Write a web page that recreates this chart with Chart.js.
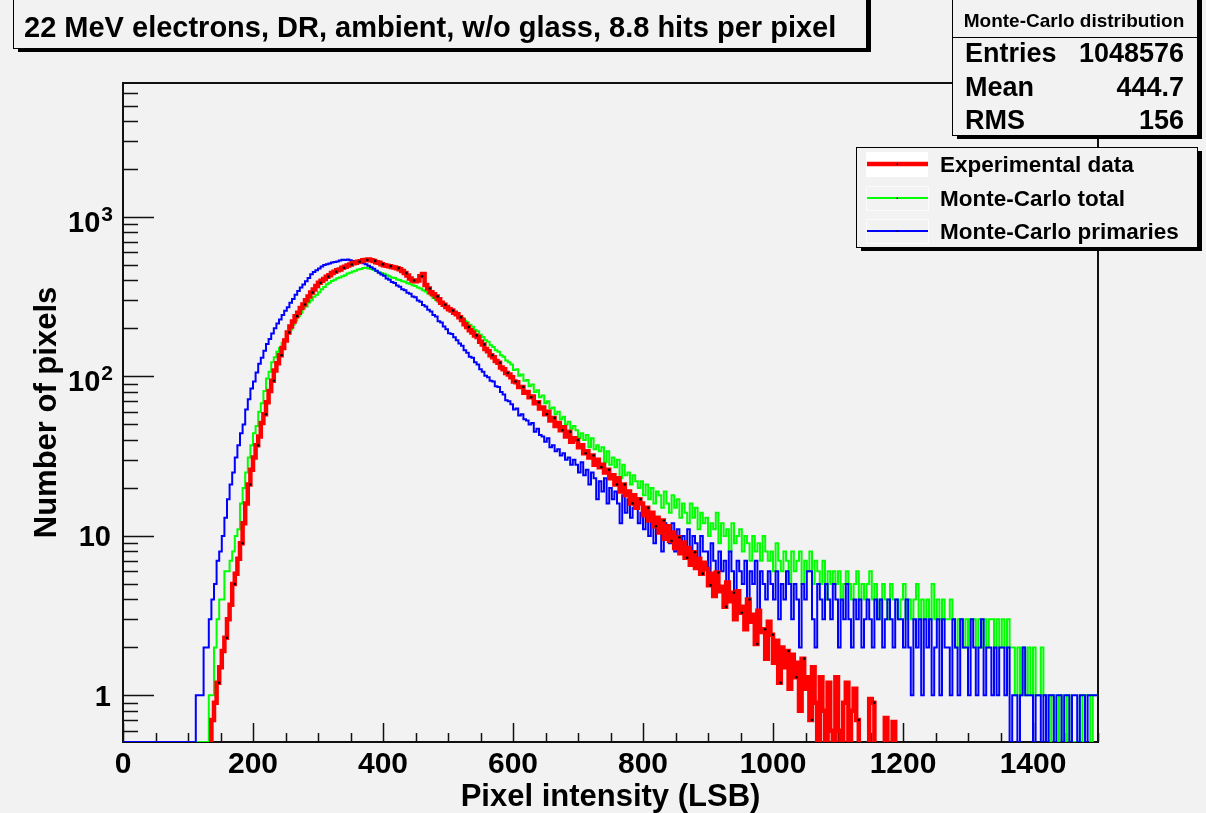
<!DOCTYPE html>
<html>
<head>
<meta charset="utf-8">
<title>22 MeV electrons, DR, ambient, w/o glass</title>
<script src="https://cdn.jsdelivr.net/npm/chart.js@4.4.1/dist/chart.umd.min.js"></script>
<style>
  html, body { margin: 0; padding: 0; background: #f2f2f2; }
  #wrap { width: 1206px; height: 813px; }
</style>
</head>
<body>
<div id="wrap"><canvas id="pixelChart" width="1206" height="813"></canvas></div>
<script>
// Histogram contents, 4 LSB per bin starting at 0 (one line = 100 LSB)
const binWidth = 4;

const experimental = [
  0,0,0,0,0,0,0,0,0,0,0,0,0,0,0,0,0,0,0,0,0,0,0,0,0,
  0,0,0,0,0,0,0,0,0,0,0.7,0.9,1.2,1.5,1.9,2.3,3.0,3.7,5.0,5.8,7.2,9.0,12,16,21,
  26,31,37,42,51,58,69,81,94,109,121,136,151,168,189,206,221,239,251,269,283,301,318,336,351,
  369,387,399,409,423,431,446,454,463,469,481,487,497,504,513,517,525,529,536,537,541,535,531,521,516,
  505,498,495,492,486,482,478,470,458,445,430,412,400,395,400,425,440,375,356,338,328,318,305,290,282,
  273,264,259,251,246,235,226,213,204,195,189,181,177,165,159,149,144,136,132,125,122,114,111,105,103,
  99,93,92,86,86,79,80,74,75,68,69,63,64,58,60,53,55,49,51,46,48,42,45,39,41,
  40,36,37,33,34,31,32,28,30,27,28,25,26,23,24,21,23,19,21,18,19,16,18,15,17,
  16,13.5,15,12.5,14,11.5,13,10.5,12.5,9.6,11.5,9.3,10.5,8.4,9.8,7.8,9.1,7.3,8.4,6.6,7.9,6.3,7.2,5.8,6.8,
  6.2,4.9,5.8,4.2,5.9,4.5,4.8,3.6,5.1,3.9,4.4,3.0,4.5,3.3,3.6,2.6,4.0,2.9,3.2,2.1,3.4,2.5,2.6,1.7,2.9,
  2.4,1.6,2.2,1.2,2.0,1.5,1.9,1.1,1.8,1.3,1.6,0.8,1.7,1.1,1.3,0.7,1.5,0.9,0,1.3,0.8,0,1.2,0.6,0,
  1.3,0.6,0,0.9,1.2,0,0.8,1.1,0.7,0,0,0,0,0.95,0.9,0,0,0,0,0.72,0,0,0.68,0,0
];

const mcTotal = [
  0,0,0,0,0,0,0,0,0,0,0,0,0,0,0,0,0,0,0,0,0,0,0,0,0,
  0,0,0,0,0,0,0,0,0,1,1,2,3,4,4,6,6,7,8,10,11,16,20,25,31,
  37,44,49,60,68,81,97,107,123,132,143,151,163,171,186,197,211,224,239,251,267,275,291,301,316,
  326,337,353,364,379,387,397,404,413,417,426,432,443,447,456,461,469,473,479,481,475,473,465,459,451,
  446,441,431,426,418,414,406,403,396,393,385,381,373,369,361,356,347,341,331,323,311,303,293,287,277,
  271,264,259,250,246,238,233,224,219,211,205,196,192,183,177,169,165,157,153,146,143,136,133,126,123,
  119,110,111,101,103,94,95,87,89,80,82,74,76,68,70,63,64,58,60,54,56,50,52,47,49,
  46,41,44,40,43,36,41,35,37,34,36,29,34,28,31,27,30,23,28,24,25,21,24,22,20,
  22,18,21,17,20,16,19,18,15,19,16,14,18,15,17,13,16,14,12,16,13,15,11,14,12,
  13,10,12,11,14,9,12,10,11,8,12,9,10,11,8,10,9,7,10,8,9,7,10,8,7,
  8,6,9,7,6,8,7,5,8,6,7,8,5,7,6,8,5,7,6,5,7,4,6,5,6,
  5,6,4,5,6,5,4,5,6,4,5,4,5,6,4,5,3,4,5,4,3,5,4,4,3,
  4,5,3,4,3,4,5,3,4,3,4,3,5,3,4,3,4,3,3,4,3,2,3,3,2,
  3,2,3,3,2,3,2,3,2,3,3,2,3,2,3,2,3,2,2,1,2,1,2,1,2,
  1,2,1,1,2,1,1,0,1,0,0,1,0,0,1,0,0,0,0,1,0,1,1,0,1
];

const mcPrimaries = [
  0,0,0,0,0,0,0,0,0,0,0,0,0,0,0,0,0,0,0,0,0,0,0,0,0,
  0,0,0,0,1,1,1,2,2,3,4,5,7,8,10,13,17,21,25,31,37,44,50,62,72,
  84,93,106,120,131,145,160,172,186,201,215,228,243,258,272,290,306,326,344,362,378,396,415,438,452,
  464,476,490,500,506,512,518,522,527,534,540,537,542,536,531,528,524,519,514,505,495,484,474,460,448,
  436,428,412,405,392,386,372,366,352,348,335,330,318,314,300,294,281,275,262,256,243,238,222,218,206,
  198,187,185,176,169,161,156,146,141,133,131,123,119,111,107,101,99,94,93,87,86,80,77,71,70,
  67,62,63,57,58,54,53,50,51,45,47,43,42,39,41,36,37,34,35,32,33,30,31,28,30,
  28,25,29,24,26,21,25,23,17,22,19,23,16,20,17,19,16,12,18,14,17,13,15,16,12,
  14,11,13,10,12,9,13,11,8,12,10,9,12,8,11,9,10,8,11,7,10,9,7,10,8,
  8,6,9,7,5,8,6,7,5,8,6,4,7,6,5,7,4,6,5,7,3,6,5,4,6,
  5,4,6,3,5,4,6,5,3,5,4,2,5,4,6,6,3,2,5,4,3,5,4,3,5,
  4,2,4,3,5,3,2,4,3,4,2,3,4,3,2,4,3,4,2,3,4,3,2,4,3,
  3,2,4,2,1,3,2,3,1,3,2,3,1,2,3,1,3,2,2,1,3,2,1,3,2,
  2,1,3,2,1,2,3,1,2,2,1,2,1,2,2,1,2,0,1,1,0,1,2,1,1,
  1,0,1,1,0,1,0,1,1,0,1,1,0,1,1,0,1,1,0,1,1,0,1,1,1
];

const seriesNames = ['Experimental data', 'Monte-Carlo total', 'Monte-Carlo primaries'];
const seriesColors = ['#ff0000', '#00ff00', '#0000ff'];

const xTickValues = [0, 200, 400, 600, 800, 1000, 1200, 1400];
const yTickValues = [1, 10, 100, 1000];
const yTickBase = ['1', '10', '10', '10'];
const yTickExp = ['', '', '2', '3'];

const plotTitle = '22 MeV electrons, DR, ambient, w/o glass, 8.8 hits per pixel';
const xTitle = 'Pixel intensity (LSB)';
const yTitle = 'Number of pixels';
const statsTitle = 'Monte-Carlo distribution';
const statNames = ['Entries', 'Mean', 'RMS'];
const statValues = ['1048576', '444.7', '156'];

const xMax = 1500;
const yMin = 0.51;
const yMax = 6930;

const FONT = '"Liberation Sans", Arial, Helvetica, sans-serif';
const BG = '#f2f2f2';
const bold = size => `bold ${size}px ${FONT}`;
const lineWidths = [4.5, 2, 2];

// empty bins sit on the frame bottom (or below it for the data points)
function histPoints(counts, empty) {
    const pts = counts.map((c, i) => ({ x: i * binWidth, y: c > 0 ? c : empty }));
    pts.push({ x: counts.length * binWidth, y: pts[pts.length - 1].y });
    return pts;
}

// box with the dark drop shadow
function pave(ctx, x, y, w, h) {
    ctx.fillStyle = '#000';
    ctx.fillRect(x + 5, y + 4, w, h);
    ctx.fillStyle = BG;
    ctx.fillRect(x, y, w, h);
    ctx.strokeStyle = '#000';
    ctx.lineWidth = 1;
    ctx.strokeRect(x + 0.5, y + 0.5, w, h);
}

const rootStyle = {
    id: 'rootStyle',
    beforeDraw(chart) {
        const { ctx, width, height } = chart;
        ctx.save();
        ctx.fillStyle = BG;
        ctx.fillRect(0, 0, width, height);
        ctx.restore();
    },
    beforeDatasetsDraw(chart) {
        const { ctx, chartArea: a, scales: { x, y } } = chart;
        ctx.save();
        ctx.strokeStyle = '#111';
        ctx.lineWidth = 2;
        ctx.strokeRect(a.left, a.top, a.right - a.left, a.bottom - a.top);

        // ticks point into the frame
        ctx.lineWidth = 1.5;
        ctx.beginPath();
        for (let v = 0; v <= xMax; v += 50) {
            const px = Math.round(x.getPixelForValue(v)) + 0.5;
            const len = v % 200 === 0 ? 19 : 9;
            ctx.moveTo(px, a.bottom);
            ctx.lineTo(px, a.bottom - len);
        }
        for (let e = -1; e <= 3; e++) {
            for (let m = 1; m <= 9; m++) {
                const v = m * Math.pow(10, e);
                if (v < yMin || v > yMax) continue;
                const py = Math.round(y.getPixelForValue(v)) + 0.5;
                ctx.moveTo(a.left, py);
                ctx.lineTo(a.left + (m === 1 ? 31 : 15), py);
            }
        }
        ctx.stroke();
        ctx.restore();
    },
    afterDraw(chart) {
        const { ctx, chartArea: a, scales: { x, y } } = chart;
        ctx.save();
        ctx.fillStyle = '#000';
        ctx.textBaseline = 'alphabetic';

        // axis labels
        ctx.font = bold(30);
        ctx.textAlign = 'center';
        xTickValues.forEach(v => ctx.fillText(String(v), x.getPixelForValue(v), 773));

        ctx.textAlign = 'right';
        yTickValues.forEach((v, i) => {
            const py = y.getPixelForValue(v);
            const right = a.left - 11;
            if (yTickExp[i]) {
                ctx.font = bold(21);
                const ew = ctx.measureText(yTickExp[i]).width;
                ctx.fillText(yTickExp[i], right + 1, py + 4);
                ctx.font = bold(29);
                ctx.fillText(yTickBase[i], right - ew, py + 15);
            } else {
                ctx.font = bold(29);
                ctx.fillText(yTickBase[i], right - 1, py + 10.5);
            }
        });

        ctx.font = bold(31);
        ctx.textAlign = 'center';
        ctx.fillText(xTitle, (a.left + a.right) / 2, 806);
        ctx.save();
        ctx.translate(56, (a.top + a.bottom) / 2);
        ctx.rotate(-Math.PI / 2);
        ctx.fillText(yTitle, 0, 0);
        ctx.restore();

        // title
        pave(ctx, 13, -6, 853, 54);
        ctx.fillStyle = '#000';
        ctx.font = bold(29);
        ctx.textAlign = 'left';
        ctx.fillText(plotTitle, 24, 37);

        // statistics box
        pave(ctx, 952, -6, 245, 141);
        ctx.beginPath();
        ctx.moveTo(952, 37.5);
        ctx.lineTo(1197, 37.5);
        ctx.stroke();
        ctx.fillStyle = '#000';
        ctx.font = bold(19);
        ctx.textAlign = 'center';
        ctx.fillText(statsTitle, 1074, 27);
        ctx.font = bold(27);
        [62, 96, 129].forEach((base, i) => {
            ctx.textAlign = 'left';
            ctx.fillText(statNames[i], 965, base);
            ctx.textAlign = 'right';
            ctx.fillText(statValues[i], 1184, base);
        });

        // legend
        pave(ctx, 856, 147, 341, 100);
        const rows = [164, 198, 231];
        rows.forEach((cy, i) => {
            if (i === 0) {
                ctx.fillStyle = '#ffffff';
                ctx.fillRect(866, cy - 12, 62, 25);
            } else {
                ctx.strokeStyle = '#fbfbfb';
                ctx.lineWidth = 1;
                ctx.strokeRect(866.5, cy - 11.5, 62, 24);
            }
            ctx.strokeStyle = seriesColors[i];
            ctx.lineWidth = lineWidths[i];
            ctx.beginPath();
            ctx.moveTo(867, cy);
            ctx.lineTo(928, cy);
            ctx.stroke();
            ctx.fillStyle = '#000';
            ctx.fillRect(896.5, cy - 0.5, 1.5, 1.5);
            ctx.font = bold(22.5);
            ctx.textAlign = 'left';
            ctx.fillText(seriesNames[i], 940, cy + 8);
        });
        ctx.restore();
    }
};

new Chart(document.getElementById('pixelChart'), {
    type: 'line',
    data: {
        datasets: [
            {
                label: seriesNames[0],
                data: histPoints(experimental, yMin / 10),
                borderColor: seriesColors[0],
                borderWidth: lineWidths[0],
                stepped: 'after',
                order: 0,
                pointRadius: c => (c.dataIndex % 3 === 1 ? 1.3 : 0),
                pointBackgroundColor: '#000',
                pointBorderWidth: 0
            },
            {
                label: seriesNames[1],
                data: histPoints(mcTotal, yMin),
                borderColor: seriesColors[1],
                borderWidth: lineWidths[1],
                stepped: 'after',
                order: 2,
                pointRadius: 0
            },
            {
                label: seriesNames[2],
                data: histPoints(mcPrimaries, yMin),
                borderColor: seriesColors[2],
                borderWidth: lineWidths[2],
                stepped: 'after',
                order: 1,
                pointRadius: 0
            }
        ]
    },
    options: {
        responsive: false,
        animation: false,
        devicePixelRatio: 1,
        events: [],
        layout: { padding: { left: 123, top: 83, right: 1206 - 1098, bottom: 813 - 742 } },
        scales: {
            x: { type: 'linear', min: 0, max: xMax, display: false },
            y: { type: 'logarithmic', min: yMin, max: yMax, display: false }
        },
        plugins: {
            legend: { display: false },
            title: { display: false },
            tooltip: { enabled: false }
        }
    },
    plugins: [rootStyle]
});
</script>
</body>
</html>
